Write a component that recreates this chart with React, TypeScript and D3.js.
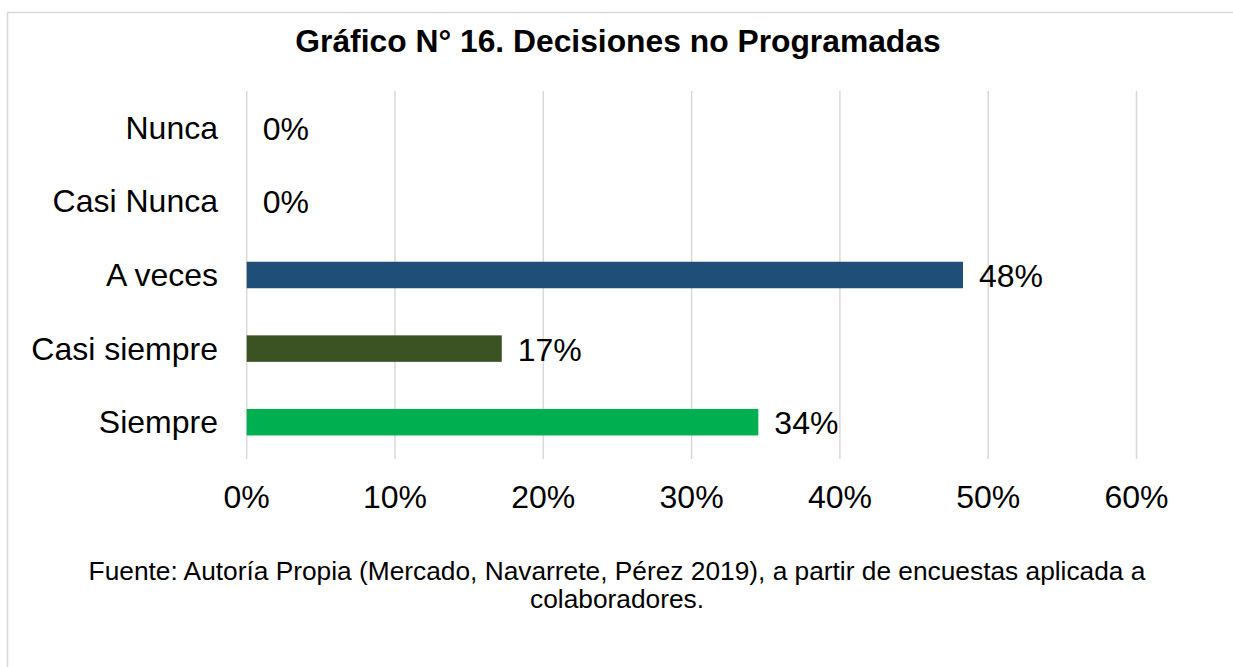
import React from "react";
import * as d3 from "d3";

const categories = ["Nunca", "Casi Nunca", "A veces", "Casi siempre", "Siempre"];
const values = [0, 0, 0.483, 0.172, 0.345];
const valueLabels = ["0%", "0%", "48%", "17%", "34%"];
const barColors = ["#1F4E79", "#1F4E79", "#1F4E79", "#3B5323", "#00B050"];
const ticks = [0, 0.1, 0.2, 0.3, 0.4, 0.5, 0.6];
const title = "Gráfico N° 16. Decisiones no Programadas";
const footer = [
  "Fuente: Autoría Propia (Mercado, Navarrete, Pérez 2019), a partir de encuestas aplicada a",
  "colaboradores.",
];

const W = 1233;
const H = 667;
const FONT = "'Liberation Sans', Arial, Helvetica, sans-serif";

export default function App() {
  const x = d3.scaleLinear().domain([0, 0.6]).range([246.7, 1136.5]);
  const y = d3
    .scaleBand<string>()
    .domain(categories)
    .range([91, 459])
    .paddingInner(0.64)
    .paddingOuter(0.32);
  const fmt = d3.format(".0%");

  return (
    <svg
      width={W}
      height={H}
      style={{ position: "absolute", left: 0, top: 0, display: "block", background: "#fff" }}
      fontFamily={FONT}
    >
      <rect x={7.5} y={12.5} width={W + 20} height={H + 20} fill="#fff" stroke="#d9d9d9" strokeWidth={1.5} />
      <text x={618} y={52} textAnchor="middle" fontSize={31.8} fontWeight="bold" fill="#000">
        {title}
      </text>
      {ticks.map((t) => (
        <g key={t}>
          <line x1={x(t)} x2={x(t)} y1={91} y2={459} stroke="#d9d9d9" strokeWidth={1.5} />
          <text x={x(t)} y={508} textAnchor="middle" fontSize={32} fill="#000">
            {fmt(t)}
          </text>
        </g>
      ))}
      {categories.map((c, i) => {
        const cy = (y(c) as number) + y.bandwidth() / 2;
        return (
          <g key={c}>
            <text x={218} y={cy + 11} textAnchor="end" fontSize={32} fill="#000">
              {c}
            </text>
            {values[i] > 0 && (
              <rect
                x={x(0)}
                y={y(c)}
                width={x(values[i]) - x(0)}
                height={y.bandwidth()}
                fill={barColors[i]}
              />
            )}
            <text x={x(values[i]) + 16} y={cy + 12} fontSize={32} fill="#000">
              {valueLabels[i]}
            </text>
          </g>
        );
      })}
      {footer.map((l, i) => (
        <text key={i} x={617} y={580 + i * 28} textAnchor="middle" fontSize={26.3} fill="#000">
          {l}
        </text>
      ))}
    </svg>
  );
}
